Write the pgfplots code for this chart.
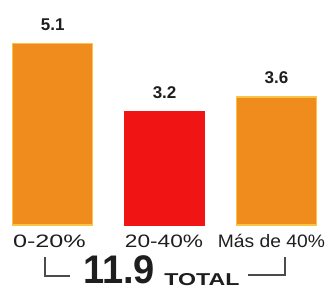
\documentclass[border=0pt]{standalone}
\usepackage{pgfplots}
\pgfplotsset{compat=1.18}
\usepackage{fontspec}
\setmainfont{Liberation Sans}
\usepackage{graphicx}
\definecolor{barorange}{RGB}{240,140,30}
\definecolor{barred}{RGB}{240,20,20}
\definecolor{baredge}{RGB}{250,195,70}
\definecolor{txt}{RGB}{30,30,30}
\begin{document}
\begin{tikzpicture}
\begin{axis}[
 scale only axis, width=331pt, height=294pt,
 xmin=-0.471, xmax=2.487, ymin=-1.938, ymax=6.320,
 axis lines=none, clip=false,
 ybar, bar width=80pt, bar shift=0pt,
 nodes near coords, point meta=explicit symbolic,
 nodes near coords style={anchor=south, inner sep=0pt, yshift=12pt,
   font=\fontsize{17}{17}\selectfont\bfseries, text=txt},
]
\addplot[fill=barorange, draw=baredge, line width=1.5pt] coordinates {(0,5.1)[5.1] (2,3.6)[3.6]};
\addplot[fill=barred, draw=barred, line width=1pt] coordinates {(1,3.2)[3.2]};
\node[anchor=base, text=txt, font=\fontsize{18}{18}\selectfont] at (axis description cs:0.1495,0.1565) {\scalebox{1.4}[1]{0-20\%}};
\node[anchor=base, text=txt, font=\fontsize{18}{18}\selectfont] at (axis description cs:0.4955,0.1565) {\scalebox{1.26}[1]{20-40\%}};
\node[anchor=base, text=txt, font=\fontsize{18}{18}\selectfont] at (axis description cs:0.820,0.1565) {\scalebox{1.07}[1]{Más de 40\%}};
\node[anchor=base, inner sep=0pt, text=txt] at (axis description cs:0.3595,0.036) {\scalebox{1.0}[1.05]{\fontsize{38}{38}\selectfont\bfseries 11.9}};
\node[anchor=base, inner sep=0pt, text=txt] at (axis description cs:0.610,0.0306) {\resizebox{75pt}{12pt}{\bfseries TOTAL}};
\draw[txt!80, line width=1.3pt] (axis description cs:0.136,0.126) -- (axis description cs:0.136,0.061) -- (axis description cs:0.211,0.061);
\draw[txt!80, line width=1.3pt] (axis description cs:0.749,0.065) -- (axis description cs:0.861,0.065) -- (axis description cs:0.861,0.126);
\end{axis}
\pgfresetboundingbox
\path (current axis.south west) rectangle (current axis.north east);
\end{tikzpicture}
\end{document}
